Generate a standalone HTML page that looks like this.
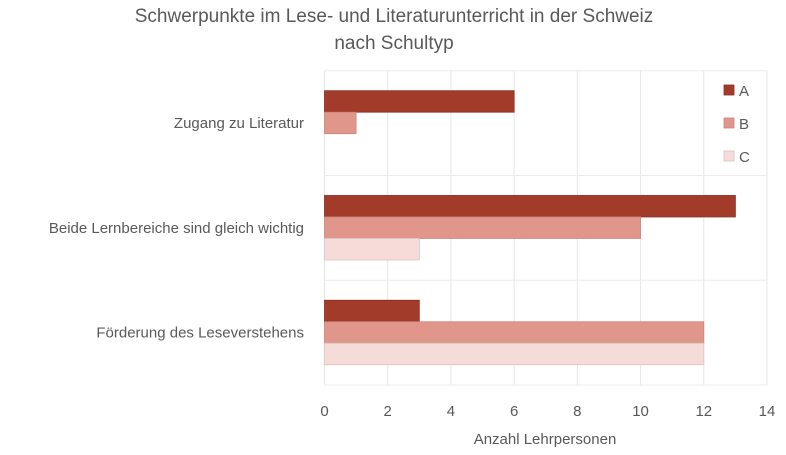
<!DOCTYPE html>
<html><head><meta charset="utf-8"><style>
body{margin:0;background:#fff;font-family:"Liberation Sans",sans-serif;}
svg text{font-family:"Liberation Sans",sans-serif;fill:#595959;}
</style></head><body>
<svg id="chart" width="786" height="450" xmlns="http://www.w3.org/2000/svg">
<text x="394" y="22" text-anchor="middle" font-size="19">Schwerpunkte im Lese- und Literaturunterricht in der Schweiz</text>
<text x="394" y="49" text-anchor="middle" font-size="19">nach Schultyp</text>
<g id="grid"></g><g id="bars"></g><g id="labels"></g>
<text x="545" y="444" text-anchor="middle" font-size="15">Anzahl Lehrpersonen</text>
<g id="legend"></g>
</svg>
<script>
const categories=["Zugang zu Literatur","Beide Lernbereiche sind gleich wichtig","Förderung des Leseverstehens"];
const seriesNames=["A","B","C"];
const seriesA=[6,13,3];
const seriesB=[1,10,12];
const seriesC=[0,3,12];
const ticks=[0,2,4,6,8,10,12,14];
const colors=["#a33b2a","#e0968b","#f5dcd8"];
const strokes=["#8a2f22","#c9877d","#d8c4c0"];
const L=324.5,R=767,T=70.7,B=385,xMax=14;
const x=v=>L+(R-L)*v/xMax;
const band=(B-T)/categories.length;
const NS="http://www.w3.org/2000/svg";
function mk(t,a,p){const e=document.createElementNS(NS,t);for(const k in a)e.setAttribute(k,a[k]);p.appendChild(e);return e;}
const grid=document.getElementById('grid'),bars=document.getElementById('bars'),labels=document.getElementById('labels'),legend=document.getElementById('legend');
ticks.forEach(t=>{
  const g=mk('line',{x1:x(t),x2:x(t),y1:T,y2:B,stroke:'#e6e6e6','stroke-width':1},grid);
  
  
  const tx=mk('text',{x:x(t),y:416,'text-anchor':'middle','font-size':15},labels);
  tx.textContent=t;
  
  
});
for(let i=0;i<=categories.length;i++){
  const h=mk('line',{x1:L,x2:R,y1:T+band*i,y2:T+band*i,stroke:'#ececec','stroke-width':1},grid);
  
  
}
const series=[seriesA,seriesB,seriesC];
const bh=21.5,off=20;
categories.forEach((c,i)=>{
  const y0=T+band*i;
  const tx=mk('text',{x:304,y:y0+band/2+5,'text-anchor':'end','font-size':15},labels);
  tx.textContent=c;
  
  
  series.forEach((s,j)=>{
    if(s[i]<=0)return;
    const r=mk('rect',{x:L,y:y0+off+bh*j,width:x(s[i])-L,height:bh,fill:colors[j],stroke:strokes[j],'stroke-width':0.8},bars);
    
    
  });
});
seriesNames.forEach((n,j)=>{
  const r=mk('rect',{x:724,y:85+j*33,width:10,height:10,fill:colors[j],stroke:strokes[j],'stroke-width':0.8},legend);
  
  
  const t=mk('text',{x:739,y:96+j*33,'font-size':15},legend);
  t.textContent=n;
  
  
});
</script>
</body></html>
